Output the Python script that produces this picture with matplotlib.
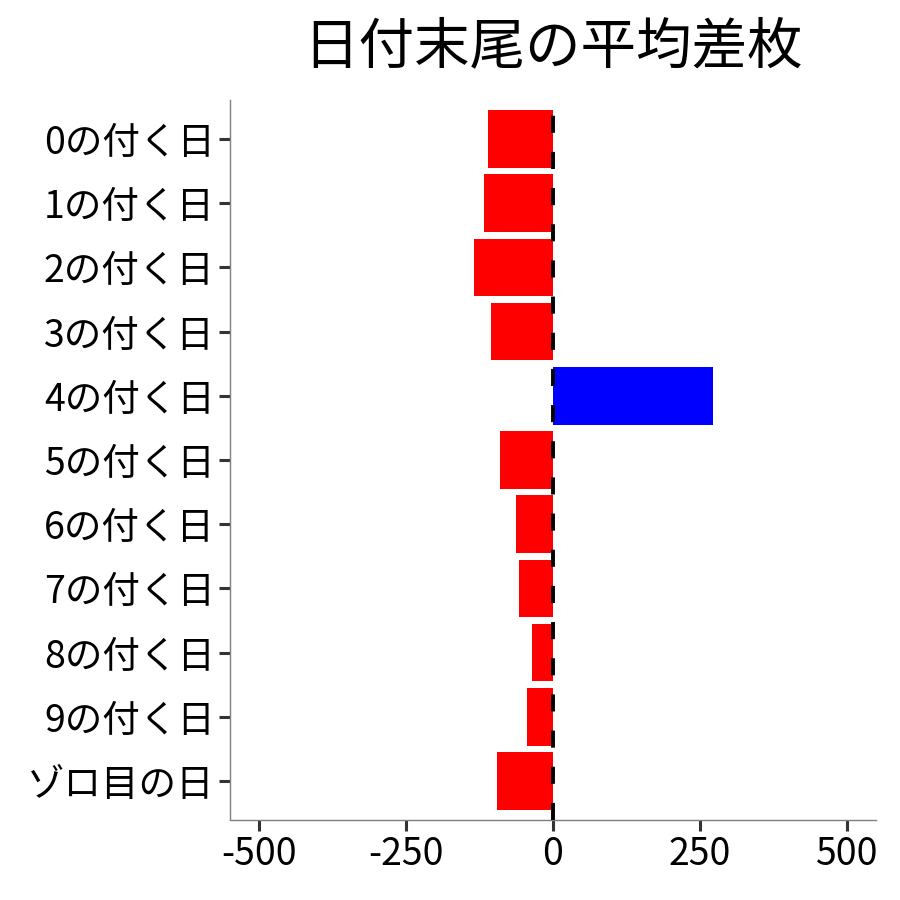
import matplotlib
matplotlib.use("Agg")
import matplotlib.pyplot as plt

plt.rcParams['font.family'] = ['Noto Sans CJK JP', 'DejaVu Sans']

categories = ["0の付く日", "1の付く日", "2の付く日", "3の付く日", "4の付く日",
              "5の付く日", "6の付く日", "7の付く日", "8の付く日", "9の付く日", "ゾロ目の日"]
values = [-111, -118, -134, -105, 272, -90, -63, -58, -36, -44, -95]
xticks = [-500, -250, 0, 250, 500]
xticklabels = ["-500", "-250", "0", "250", "500"]
title = "日付末尾の平均差枚"

fig = plt.figure(figsize=(9, 9), dpi=100)
ax = fig.add_axes([230/900, 1-819.5/900, (876-230)/900, (819.5-100.5)/900])

ypos = list(range(len(categories)))
colors = ["blue" if v > 0 else "red" for v in values]
ax.barh(ypos, values, height=0.9, color=colors, zorder=2)
ax.axvline(0, color="black", linewidth=2.8, linestyle=(0, (4.4, 4.9)), zorder=3)

ax.set_xlim(-550, 550)
ax.set_ylim(len(categories) - 0.4, -0.6)
ax.set_yticks(ypos)
ax.set_yticklabels(categories)
ax.set_xticks(xticks)
ax.set_xticklabels(xticklabels)

for s in ["top", "right"]:
    ax.spines[s].set_visible(False)
for s in ["left", "bottom"]:
    ax.spines[s].set_color("#7f7f7f")
    ax.spines[s].set_linewidth(1.0)

ax.tick_params(axis="both", length=8, width=2.2, color="#333333",
               labelsize=27, labelcolor="black", pad=3)

fig.text((230+876)/2/900, 1-47/900, title, fontsize=40, ha="center", va="center")

fig.savefig("out.png", dpi=100)
